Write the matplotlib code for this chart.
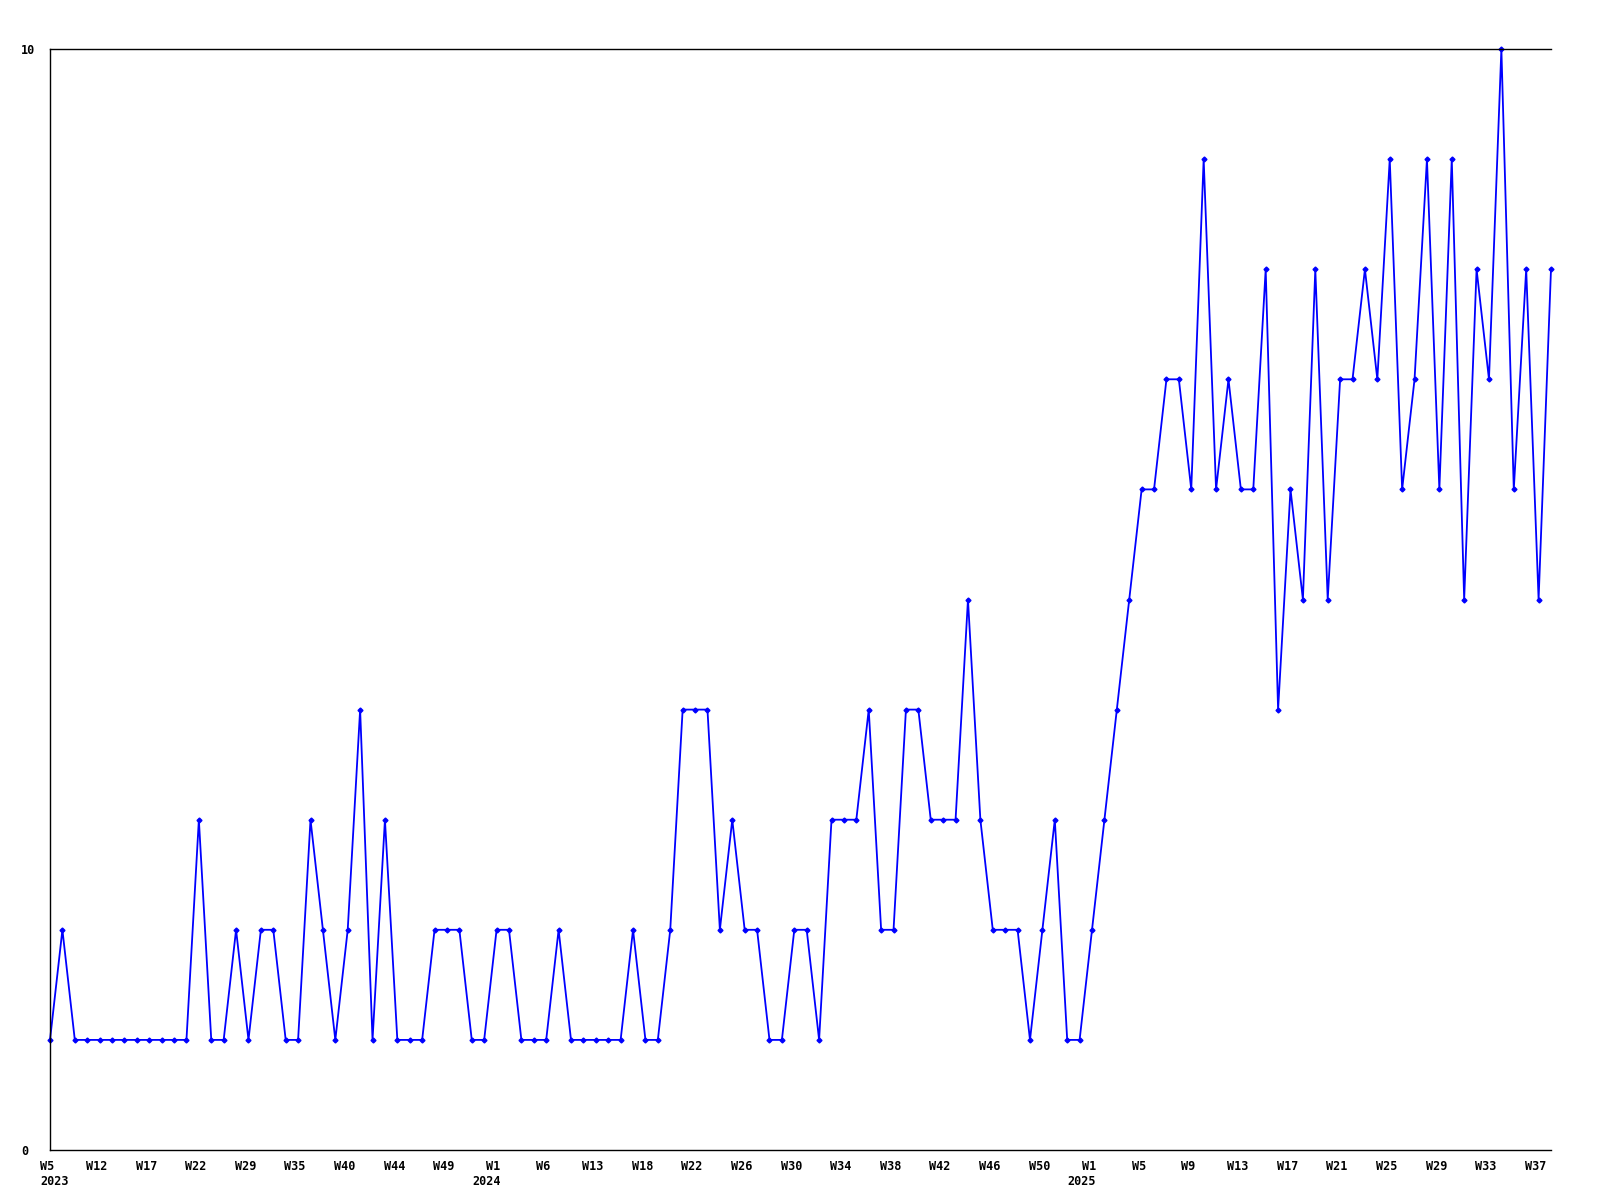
import numpy as np
from matplotlib import pyplot as plt
from matplotlib import transforms

# weekly counts, one value per week shown (gaps in the week sequence are skipped)
values = [1, 2, 1, 1, 1, 1, 1, 1, 1, 1, 1, 1, 3, 1, 1, 2, 1, 2, 2, 1,
          1, 3, 2, 1, 2, 4, 1, 3, 1, 1, 1, 2, 2, 2, 1, 1,
          2, 2, 1, 1, 1, 2, 1, 1, 1, 1, 1, 2, 1, 1, 2, 4, 4, 4, 2, 3,
          2, 2, 1, 1, 2, 2, 1, 3, 3, 3, 4, 2, 2, 4, 4, 3, 3, 3, 5, 3,
          2, 2, 2, 1, 2, 3, 1, 1,
          2, 3, 4, 5, 6, 6, 7, 7, 6, 9, 6, 7, 6, 6, 8, 4, 6, 5, 8, 5,
          7, 7, 8, 7, 9, 6, 7, 9, 6, 9, 5, 8, 7, 10, 6, 8, 5, 8]

week_labels = ["W5", "W12", "W17", "W22", "W29", "W35", "W40", "W44", "W49",
               "W1", "W6", "W13", "W18", "W22", "W26", "W30", "W34", "W38",
               "W42", "W46", "W50",
               "W1", "W5", "W9", "W13", "W17", "W21", "W25", "W29", "W33", "W37"]
years = ["2023", "2024", "2025"]
year_ticks = [0, 9, 21]   # index into week_labels
y_ticks = [0, 10]

x = np.arange(len(values))
tick_pos = np.arange(0, len(values), 4)[:len(week_labels)]

plt.rcParams['font.family'] = 'DejaVu Sans Mono'
plt.rcParams['font.weight'] = 'bold'

fig = plt.figure(figsize=(16, 12), dpi=100)
ax = fig.add_axes([50/1600, 50/1200, 1501/1600, 1101/1200])

ax.plot(x, values, color="#0000ff", linewidth=1.3, marker="D", markersize=2.5, clip_on=False)

ax.set_xlim(0, len(values) - 1)
ax.set_ylim(0, 10)
ax.set_xticks(tick_pos)
ax.set_xticklabels(week_labels, fontsize=8.5)
ax.set_yticks(y_ticks)
ax.set_yticklabels([str(v) for v in y_ticks], fontsize=8.5, ha="left")
ax.tick_params(axis="x", length=0, pad=7)
ax.tick_params(axis="y", length=0, pad=21)
ax.spines["right"].set_visible(False)
for s in ["left", "top", "bottom"]:
    ax.spines[s].set_linewidth(1)

# week labels sit a few pixels left of their point
shift = transforms.ScaledTranslation(-3/100, 0, fig.dpi_scale_trans)
for lab in ax.get_xticklabels():
    lab.set_transform(lab.get_transform() + shift)

# year under first week of each year
for k, (yr, wi) in enumerate(zip(years, year_ticks)):
    if k == 0:
        dx, ha = -10, "left"
    else:
        dx, ha = 4, "right"
    ax.annotate(yr, xy=(tick_pos[wi], 0), xycoords=("data", "axes fraction"),
                xytext=(dx, -25), textcoords="offset pixels",
                ha=ha, va="top", fontsize=8.5, annotation_clip=False)

plt.savefig("out.png")
